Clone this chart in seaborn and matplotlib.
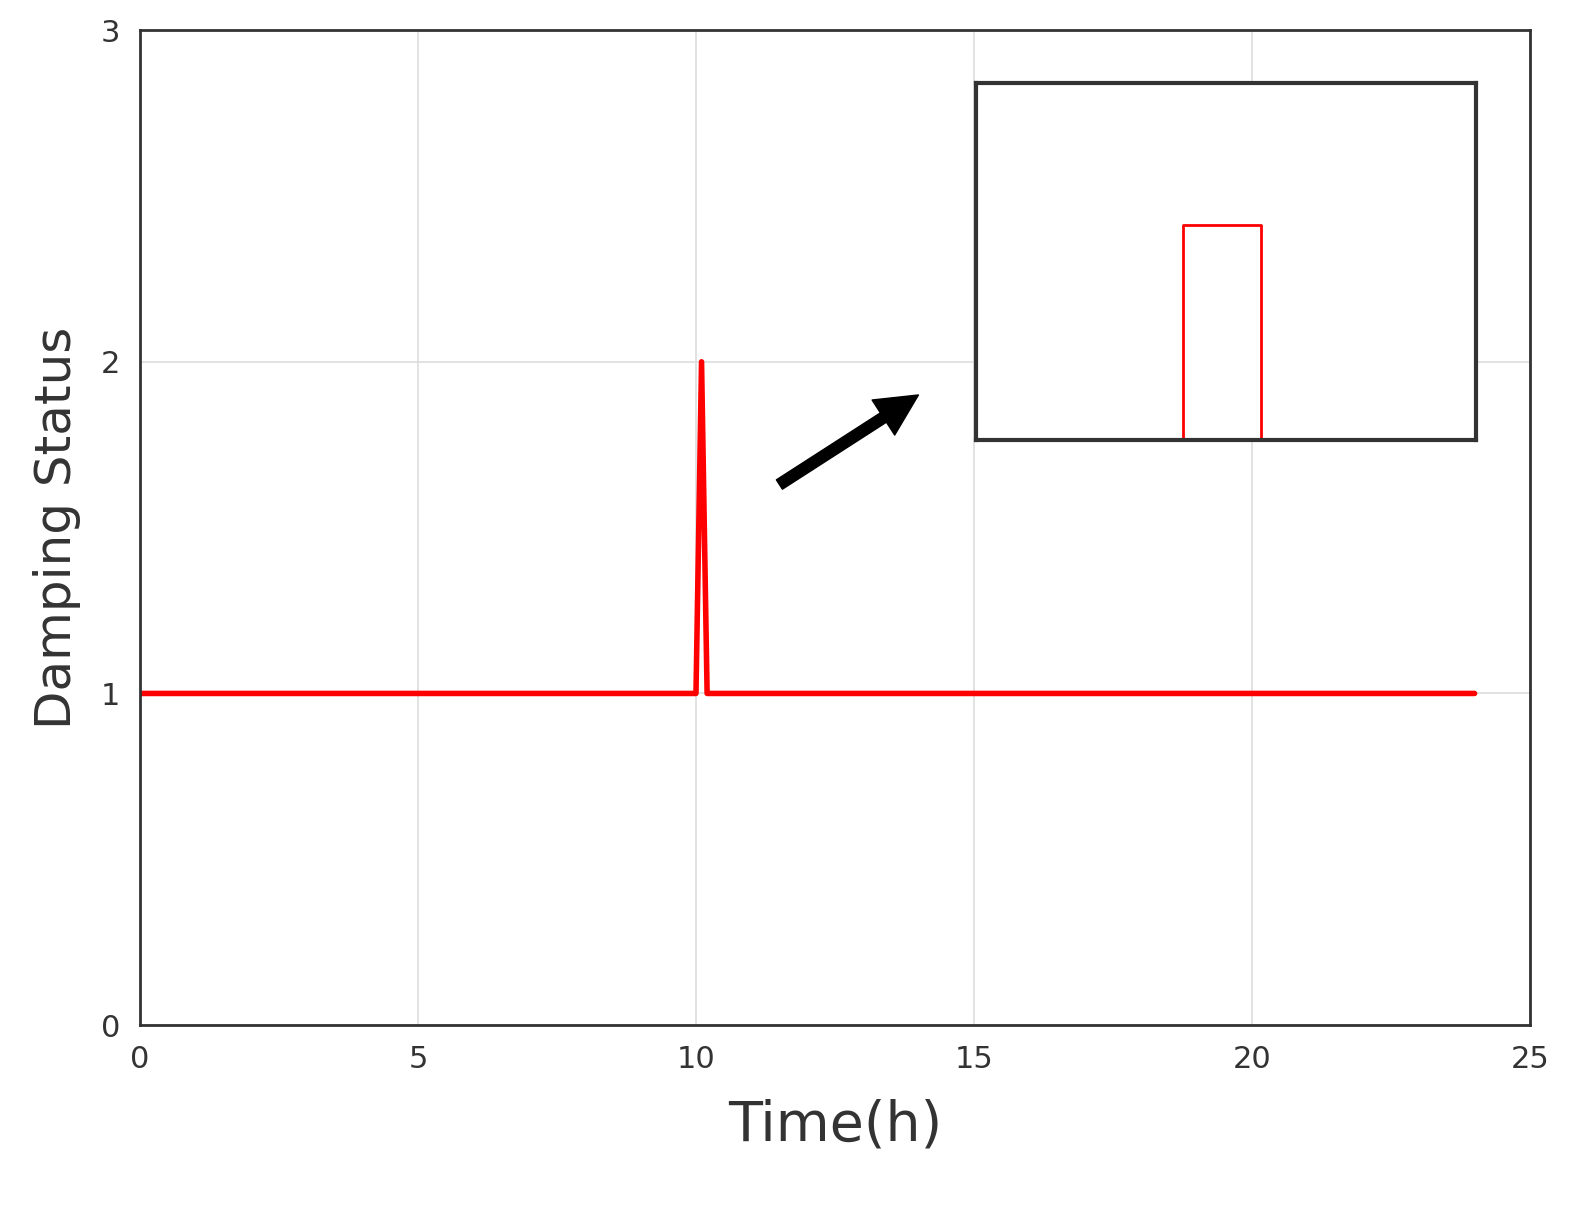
import numpy as np
import pandas as pd
import matplotlib
matplotlib.use('Agg')
import matplotlib.pyplot as plt
import seaborn as sns

# main trace (hours, status)
time_h = [0, 10.0, 10.1, 10.2, 24]
status = [1, 1, 2, 1, 1]

# zoomed pulse shown in the inset
zoom_t = [9.0, 10.0, 10.0, 10.2, 10.2, 11.0]
zoom_s = [1, 1, 2, 2, 1, 1]

sns.set_style('white')
plt.rcParams['font.family'] = ['DejaVu Sans']

fig = plt.figure(figsize=(15.89, 12.06), dpi=100)
ax = fig.add_axes([0.088, 0.150, 0.875, 0.825])

df = pd.DataFrame({'t': time_h, 's': status})
sns.lineplot(data=df, x='t', y='s', ax=ax, color='red', linewidth=4,
             sort=False, estimator=None)

ax.set_xlim(0, 25)
ax.set_ylim(0, 3)
ax.set_xticks([0, 5, 10, 15, 20, 25])
ax.set_yticks([0, 1, 2, 3])
ax.grid(True, color='#dddddd', linewidth=1.2)
ax.tick_params(labelsize=22, colors='#333333', direction='in', length=8, pad=14)
for s in ax.spines.values():
    s.set_color('#333333')
    s.set_linewidth(2)
ax.set_xlabel('Time(h)', fontsize=40, color='#333333', labelpad=18)
ax.set_ylabel('Damping Status', fontsize=36, color='#333333', labelpad=14)

# inset
ins = fig.add_axes([0.614, 0.635, 0.315, 0.296])
dz = pd.DataFrame({'t': zoom_t, 's': zoom_s})
sns.lineplot(data=dz, x='t', y='s', ax=ins, color='red', linewidth=2,
             sort=False, estimator=None)
ins.set_xlim(9.47, 10.75)
ins.set_ylim(1, 2.66)
ins.set_xticks([])
ins.set_yticks([])
ins.set_xlabel('')
ins.set_ylabel('')
for s in ins.spines.values():
    s.set_color('#333333')
    s.set_linewidth(3)

# arrow pointing to inset
ax.annotate('', xy=(14.0, 1.9), xytext=(11.5, 1.63),
            arrowprops=dict(facecolor='black', edgecolor='black', width=8,
                            headwidth=30, headlength=30))

fig.savefig('out.png', dpi=100)
